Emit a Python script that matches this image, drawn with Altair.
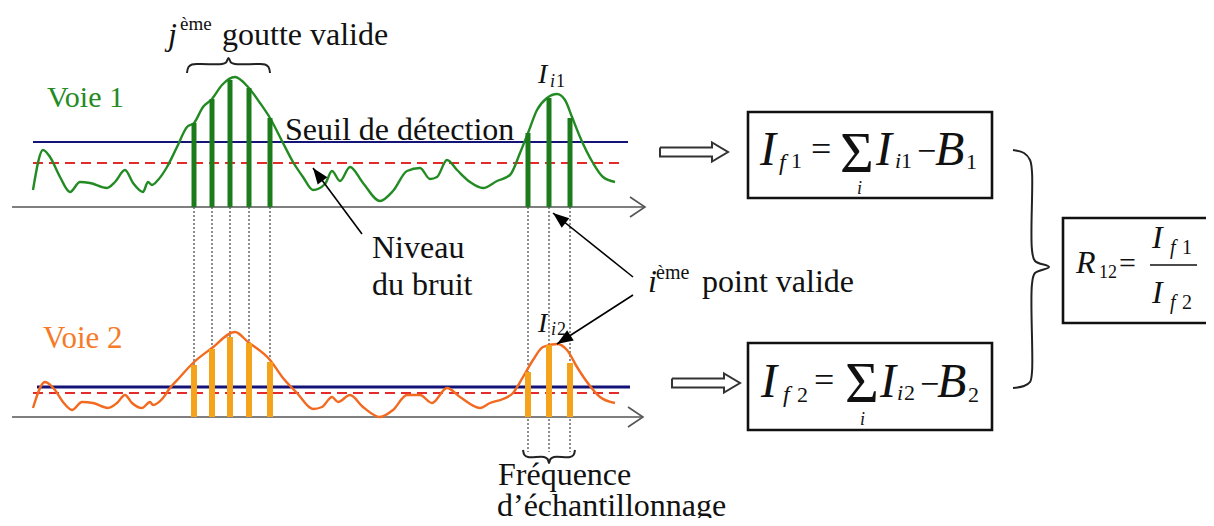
import math
import altair as alt
import pandas as pd

# ---------------- data (diagram units = reference pixels) ----------------
# Voie 1 (green) signal
voie1_x = [33, 43, 50, 60, 70, 80, 90, 107, 115, 125, 133, 143, 148, 152, 158, 167, 177, 187, 194, 203,
           212, 222, 235, 248, 260, 270, 283, 293, 303, 313, 325, 332, 340, 350, 363, 380, 393, 407, 420, 430,
           437, 447, 457, 470, 483, 497, 510, 520, 528, 537, 547, 557, 565, 572, 580, 593, 603, 615]
voie1_y = [190, 150, 157, 177, 192, 182, 183, 188, 182, 170, 183, 192, 182, 185, 180, 167, 147, 127, 123, 107,
           99, 85, 77, 87, 103, 118, 143, 162, 177, 190, 184, 171, 181, 167, 183, 201, 191, 171, 168, 179,
           177, 160, 170, 182, 188, 181, 175, 153, 133, 110, 98, 94, 100, 117, 137, 163, 177, 182]
# Voie 2 (orange) signal
voie2_x = [33, 45, 55, 63, 72, 82, 93, 108, 117, 125, 132, 142, 150, 153, 163, 170, 180, 193, 212, 235,
           248, 270, 283, 297, 313, 322, 332, 338, 350, 363, 380, 393, 407, 420, 432, 447, 460, 480, 490, 503,
           513, 523, 533, 543, 557, 567, 577, 587, 600, 615]
voie2_y = [408, 382, 390, 402, 410, 402, 403, 408, 403, 395, 403, 408, 402, 405, 398, 388, 377, 363, 348, 332,
           342, 360, 378, 393, 409, 407, 397, 402, 395, 407, 417, 410, 395, 395, 403, 388, 397, 408, 403, 399,
           393, 377, 360, 347, 344, 350, 367, 382, 397, 403]

# sampling instants (valid points) and sampled intensities
drop_x = [194, 212, 230, 249, 270]
point_x = [528, 549, 570]
voie1_drop_top = [123, 99, 80, 88, 118]
voie1_point_top = [133, 98, 118]
voie2_drop_top = [365, 349, 337, 343, 362]
voie2_point_top = [372, 345, 363]

# levels
axis_y = [207, 417]
axis_tip = [645, 643]
axis_start = [12, 12]
seuil_y = [142, 387]
seuil_x = [[33, 628], [37, 630]]
bruit_y = [163, 393]
bruit_x = [[33, 622], [33, 622]]
freq_bottom = 452

# arrows (start -> tip)
arrow_sx = [362, 633, 633]
arrow_sy = [234, 277, 295]
arrow_tx = [313, 553, 557]
arrow_ty = [168, 213, 344]

# hollow block arrows
block_start = [660, 672]
block_tip = [728, 740]
block_y = [152, 383]

# boxes [x1, x2, y1, y2]
boxes = [[748, 992, 112, 198], [748, 992, 343, 430], [1063, 1209, 218, 323]]
frac_bar = [1150, 1197, 265]

# braces
brace_top_x = [187, 188.5, 192, 200, 222, 226, 228.5, 231, 235, 258, 265, 268.5, 270]
brace_top_y = [73, 67, 64.5, 64, 64, 62.5, 58, 62.5, 64, 64, 64.5, 67, 73]
brace_freq_x = [523, 524.5, 528, 544, 547.5, 549, 550.5, 554, 570, 573.5, 575]
brace_freq_y = [450, 455, 457, 457, 459, 463, 459, 457, 457, 455, 450]
brace_big_x = [1013, 1024, 1030, 1032, 1032, 1035, 1049, 1035, 1032, 1032, 1030, 1024, 1013]
brace_big_y = [150, 153, 160, 172, 250, 261, 267, 273, 284, 372, 382, 386, 388]

BLACK = "#111111"
GREEN = "#238b23"
GREEN_BAR = "#1c7c1c"
ORANGE = "#f26a1f"
ORANGE_BAR = "#f6a31c"
VOIE2_TXT = "#f57b2a"
NAVY = "#141478"
RED = "#e52a2a"

FONT = "Liberation Serif"

# texts: (text, x, y, size, color, style)
texts = [
    ("j", 168, 45, 32, BLACK, "italic"),
    ("ème", 180, 30, 19, BLACK, "normal"),
    ("goutte valide", 222, 45, 32, BLACK, "normal"),
    ("Voie 1", 47, 107, 30, GREEN, "normal"),
    ("Seuil de détection", 285, 140, 32, BLACK, "normal"),
    ("I", 538, 83, 28, BLACK, "italic"), ("i", 550, 87, 18, BLACK, "italic"), ("1", 556, 87, 18, BLACK, "normal"),
    ("Niveau", 372, 258, 32, BLACK, "normal"),
    ("du bruit", 372, 295, 32, BLACK, "normal"),
    ("i", 648, 292, 32, BLACK, "italic"),
    ("ème", 656, 279, 20, BLACK, "normal"),
    ("point valide", 702, 292, 32, BLACK, "normal"),
    ("Voie 2", 43, 348, 31, VOIE2_TXT, "normal"),
    ("I", 538, 332, 28, BLACK, "italic"), ("i", 551, 335, 18, BLACK, "italic"), ("2", 557, 335, 18, BLACK, "normal"),
    ("Fréquence", 498, 485, 32, BLACK, "normal"),
    ("d\u2019échantillonnage", 497, 516, 32, BLACK, "normal"),
    # box 1 : I_f1 = sum_i I_i1 - B_1
    ("I", 760, 165, 48, BLACK, "italic"), ("f", 779, 170, 24, BLACK, "italic"), ("1", 791, 168, 22, BLACK, "normal"),
    ("=", 811, 161, 36, BLACK, "normal"), ("\u03a3", 840, 172, 58, BLACK, "normal"),
    ("i", 857, 194, 18, BLACK, "italic"),
    ("I", 876, 165, 48, BLACK, "italic"), ("i", 895, 168, 22, BLACK, "italic"), ("1", 901, 168, 22, BLACK, "normal"),
    ("\u2212", 917, 162, 34, BLACK, "normal"), ("B", 935, 165, 48, BLACK, "italic"),
    ("1", 966, 169, 22, BLACK, "normal"),
    # box 2 : I_f2 = sum_i I_i2 - B_2
    ("I", 761, 397, 48, BLACK, "italic"), ("f", 783, 402, 24, BLACK, "italic"), ("2", 797, 402, 22, BLACK, "normal"),
    ("=", 814, 392, 36, BLACK, "normal"), ("\u03a3", 845, 402, 58, BLACK, "normal"),
    ("i", 860, 425, 18, BLACK, "italic"),
    ("I", 880, 397, 48, BLACK, "italic"), ("i", 897, 400, 22, BLACK, "italic"), ("2", 904, 400, 22, BLACK, "normal"),
    ("\u2212", 920, 395, 34, BLACK, "normal"), ("B", 937, 397, 48, BLACK, "italic"),
    ("2", 968, 402, 22, BLACK, "normal"),
    # box 3 : R_12 = I_f1 / I_f2
    ("R", 1076, 273, 32, BLACK, "italic"), ("12", 1099, 278, 18, BLACK, "normal"),
    ("=", 1119, 273, 30, BLACK, "normal"),
    ("I", 1152, 248, 32, BLACK, "italic"), ("f", 1170, 254, 20, BLACK, "italic"), ("1", 1182, 254, 20, BLACK, "normal"),
    ("I", 1152, 303, 32, BLACK, "italic"), ("f", 1170, 309, 20, BLACK, "italic"), ("2", 1182, 309, 20, BLACK, "normal"),
]

# ---------------- chart ----------------
W, H = 1198, 510
X0, Y0 = 8, 8
xs = alt.Scale(domain=[X0, X0 + W], nice=False, zero=False)
ys = alt.Scale(domain=[Y0, Y0 + H], nice=False, zero=False, reverse=True)


def X(f="x"):
    return alt.X(f"{f}:Q", scale=xs, axis=None)


def Y(f="y"):
    return alt.Y(f"{f}:Q", scale=ys, axis=None)


layers = []

# dotted sampling lines
dots = pd.DataFrame(
    [{"x": x, "y": axis_y[0], "y2": t} for x, t in zip(drop_x, voie2_drop_top)]
    + [{"x": x, "y": axis_y[0], "y2": freq_bottom} for x in point_x]
)
layers.append(alt.Chart(dots).mark_rule(color="#444444", strokeWidth=1.2, strokeDash=[2, 2])
              .encode(x=X(), y=Y(), y2=alt.Y2("y2:Q")))

# axes baselines
axes = pd.DataFrame({"x": axis_start, "x2": axis_tip, "y": axis_y})
layers.append(alt.Chart(axes).mark_rule(color="#555555", strokeWidth=1.6)
              .encode(x=X(), x2=alt.X2("x2:Q"), y=Y()))
chev = []
for k, (tx, ay) in enumerate(zip(axis_tip, axis_y)):
    for i, (dx, dy) in enumerate([(-15, -10), (0, 0), (-15, 10)]):
        chev.append({"g": k, "o": i, "x": tx + dx, "y": ay + dy})
layers.append(alt.Chart(pd.DataFrame(chev)).mark_line(color="#555555", strokeWidth=1.6)
              .encode(x=X(), y=Y(), detail="g:N", order="o:Q"))

# thresholds
for (sx, y, w) in zip(seuil_x, seuil_y, [2.2, 3.2]):
    layers.append(alt.Chart(pd.DataFrame({"x": [sx[0]], "x2": [sx[1]], "y": [y]}))
                  .mark_rule(color=NAVY, strokeWidth=w)
                  .encode(x=X(), x2=alt.X2("x2:Q"), y=Y()))
bruit = pd.DataFrame({"x": [s[0] for s in bruit_x], "x2": [s[1] for s in bruit_x], "y": bruit_y})
layers.append(alt.Chart(bruit).mark_rule(color=RED, strokeWidth=2.2, strokeDash=[10, 6])
              .encode(x=X(), x2=alt.X2("x2:Q"), y=Y()))

# curves
c1 = pd.DataFrame({"x": voie1_x, "y": voie1_y})
c2 = pd.DataFrame({"x": voie2_x, "y": voie2_y})
layers.append(alt.Chart(c1).mark_line(color=GREEN, strokeWidth=2.4, interpolate="monotone")
              .encode(x=X(), y=Y()))
layers.append(alt.Chart(c2).mark_line(color=ORANGE, strokeWidth=2.4, interpolate="monotone")
              .encode(x=X(), y=Y()))

# sampled bars
b1 = pd.DataFrame({"x": drop_x + point_x, "y": voie1_drop_top + voie1_point_top,
                   "y2": [axis_y[0]] * (len(drop_x) + len(point_x))})
b2 = pd.DataFrame({"x": drop_x + point_x, "y": voie2_drop_top + voie2_point_top,
                   "y2": [axis_y[1]] * (len(drop_x) + len(point_x))})
layers.append(alt.Chart(b1).mark_rule(color=GREEN_BAR, strokeWidth=5)
              .encode(x=X(), y=Y(), y2=alt.Y2("y2:Q")))
layers.append(alt.Chart(b2).mark_rule(color=ORANGE_BAR, strokeWidth=6)
              .encode(x=X(), y=Y(), y2=alt.Y2("y2:Q")))

# pointer arrows
arr = pd.DataFrame({"x": arrow_sx, "y": arrow_sy, "x2": arrow_tx, "y2": arrow_ty})
arr["angle"] = [(math.degrees(math.atan2(tx - sx, -(ty - sy))) + 360) % 360
                for sx, sy, tx, ty in zip(arrow_sx, arrow_sy, arrow_tx, arrow_ty)]
layers.append(alt.Chart(arr).mark_rule(color="#000000", strokeWidth=1.6)
              .encode(x=X(), y=Y(), x2=alt.X2("x2:Q"), y2=alt.Y2("y2:Q")))
layers.append(alt.Chart(arr).mark_point(shape="M0,0L-0.38,1L0.38,1Z", filled=True, size=1024,
                                        color="#000000", opacity=1)
              .encode(x=X("x2"), y=Y("y2"), angle=alt.Angle("angle:Q", scale=None)))

# hollow block arrows
blk = []
for k, (x0, tip, cy) in enumerate(zip(block_start, block_tip, block_y)):
    pts = [(x0, cy - 4.5), (tip - 16, cy - 4.5), (tip - 16, cy - 9.5), (tip, cy),
           (tip - 16, cy + 9.5), (tip - 16, cy + 4.5), (x0, cy + 4.5), (x0, cy - 4.5)]
    for i, (px, py) in enumerate(pts):
        blk.append({"g": k, "o": i, "x": px, "y": py})
layers.append(alt.Chart(pd.DataFrame(blk)).mark_line(color="#333333", strokeWidth=2, strokeJoin="miter")
              .encode(x=X(), y=Y(), detail="g:N", order="o:Q"))

# boxes
bx = pd.DataFrame({"x": [b[0] for b in boxes], "x2": [b[1] for b in boxes],
                   "y": [b[2] for b in boxes], "y2": [b[3] for b in boxes]})
layers.append(alt.Chart(bx).mark_rect(fill="white", stroke="#111111", strokeWidth=2.6)
              .encode(x=X(), x2=alt.X2("x2:Q"), y=Y(), y2=alt.Y2("y2:Q")))
fb = pd.DataFrame({"x": [frac_bar[0]], "x2": [frac_bar[1]], "y": [frac_bar[2]]})
layers.append(alt.Chart(fb).mark_rule(color="#111111", strokeWidth=1.5)
              .encode(x=X(), x2=alt.X2("x2:Q"), y=Y()))

# braces
br = []
for k, (bxs, bys) in enumerate([(brace_top_x, brace_top_y), (brace_freq_x, brace_freq_y),
                                (brace_big_x, brace_big_y)]):
    for i, (px, py) in enumerate(zip(bxs, bys)):
        br.append({"g": k, "o": i, "x": px, "y": py})
layers.append(alt.Chart(pd.DataFrame(br)).mark_line(color="#222222", strokeWidth=2, interpolate="catmull-rom")
              .encode(x=X(), y=Y(), detail="g:N", order="o:Q"))

# texts: one layer per (size, colour, style) group, all style given as mark properties
tdf = pd.DataFrame(texts, columns=["label", "x", "y", "fs", "col", "style"])
for (fs, col, style), g in tdf.groupby(["fs", "col", "style"], sort=False):
    layers.append(alt.Chart(g[["label", "x", "y"]].reset_index(drop=True))
                  .mark_text(font=FONT, fontSize=float(fs), color=col, fontStyle=style,
                             align="left", baseline="alphabetic")
                  .encode(x=X(), y=Y(), text="label:N"))

chart = (alt.layer(*layers)
         .properties(width=W, height=H, padding=0, autosize=alt.AutoSizeParams(type="none"),
                     background="white")
         .configure(font=FONT)
         .configure_view(stroke=None))

chart.save("out.html", embed_options={"renderer": "svg", "actions": False})
